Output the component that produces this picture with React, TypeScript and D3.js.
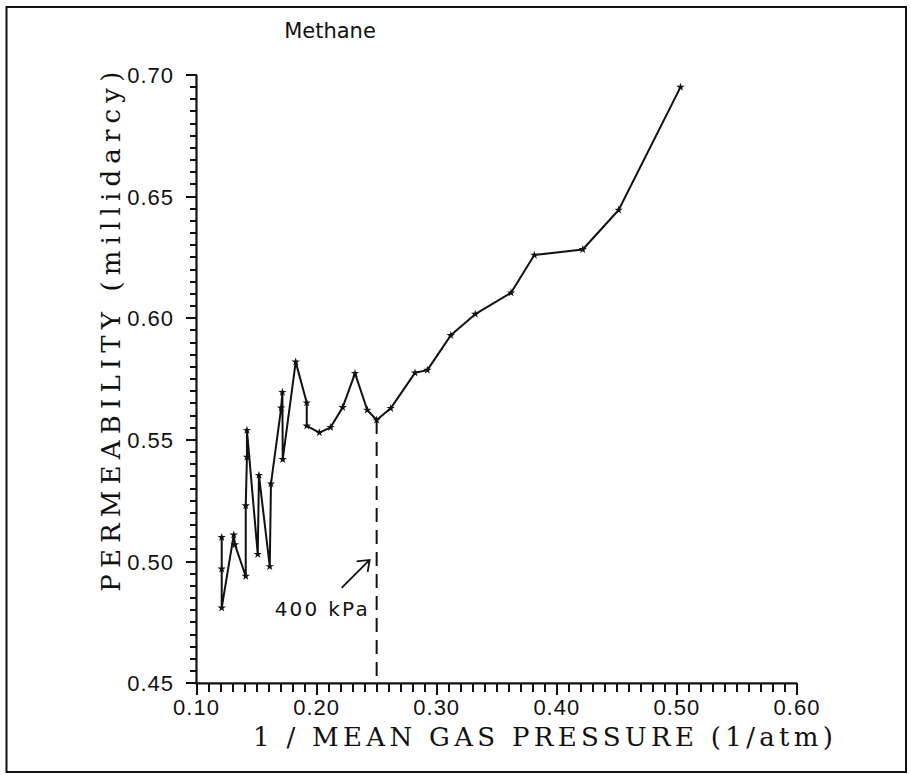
import * as d3 from 'd3';
import { useEffect, useRef } from 'react';

// 1 / mean gas pressure (1/atm), in measurement order
const invPressure = [
    0.121, 0.121, 0.121, 0.131, 0.132, 0.141, 0.141, 0.142, 0.142, 0.151, 0.152, 0.161, 0.162, 0.1705, 0.1715,
    0.1718, 0.1826, 0.1918, 0.1918, 0.2023, 0.2117, 0.2217, 0.232, 0.2422, 0.25, 0.2617, 0.2819, 0.2922, 0.3117,
    0.3321, 0.3619, 0.3813, 0.4216, 0.4515, 0.503,
];
// permeability (millidarcy)
const permeability = [
    0.51, 0.497, 0.481, 0.511, 0.507, 0.494, 0.523, 0.543, 0.554, 0.503, 0.5355, 0.498, 0.532, 0.5632, 0.5696,
    0.542, 0.5821, 0.5653, 0.5558, 0.553, 0.5552, 0.5634, 0.5774, 0.5623, 0.5582, 0.563, 0.5776, 0.5787, 0.593,
    0.6017, 0.6105, 0.626, 0.6283, 0.6445, 0.695,
];
const xTicks = [0.1, 0.2, 0.3, 0.4, 0.5, 0.6];
const yTicks = [0.45, 0.5, 0.55, 0.6, 0.65, 0.7];
const markerX = 0.25; // 400 kPa
const markerY = 0.5582;

const x = d3.scaleLinear().domain([0.1, 0.6]).range([196.5, 797]);
const y = d3.scaleLinear().domain([0.45, 0.7]).range([683.3, 75]);
const xMinor = d3.range(0, 51).map((i) => 0.1 + i * 0.01);
const yMinor = d3.range(0, 51).map((i) => 0.45 + i * 0.005);

export default function App() {
    const ref = useRef<SVGGElement | null>(null);
    const ink = '#111';
    const x0 = x(0.1);
    const y0 = y(0.45);

    useEffect(() => {
        if (!ref.current) return;
        const g = d3.select(ref.current);
        g.selectAll('*').remove();

        const sans = "'Liberation Sans', Arial, sans-serif";
        const serif = "'DejaVu Serif', serif";

        g.append('g')
            .selectAll('text')
            .data(xTicks)
            .join('text')
            .attr('x', (d) => x(d))
            .attr('y', 715)
            .attr('text-anchor', 'middle')
            .attr('font-family', sans)
            .attr('font-size', 22)
            .attr('letter-spacing', 1)
            .attr('fill', ink)
            .text((d) => d.toFixed(2));

        g.append('g')
            .selectAll('text')
            .data(yTicks)
            .join('text')
            .attr('x', 174)
            .attr('y', (d) => y(d) + 8)
            .attr('text-anchor', 'end')
            .attr('font-family', sans)
            .attr('font-size', 22)
            .attr('letter-spacing', 1)
            .attr('fill', ink)
            .text((d) => d.toFixed(2));

        // axis titles
        g.append('text')
            .attr('x', 253)
            .attr('y', 746)
            .attr('font-family', serif)
            .attr('font-size', 26)
            .attr('textLength', 580)
            .attr('lengthAdjust', 'spacing')
            .attr('fill', ink)
            .text('1 / MEAN GAS PRESSURE (1/atm)');

        g.append('text')
            .attr('transform', `translate(120,${y(0.5945)}) rotate(-90)`)
            .attr('text-anchor', 'middle')
            .attr('font-family', serif)
            .attr('font-size', 26)
            .attr('textLength', 520)
            .attr('lengthAdjust', 'spacing')
            .attr('fill', ink)
            .text('PERMEABILITY (millidarcy)');

        g.append('text')
            .attr('x', 330)
            .attr('y', 38)
            .attr('text-anchor', 'middle')
            .attr('font-family', "'DejaVu Sans', sans-serif")
            .attr('font-size', 21)
            .attr('fill', ink)
            .text('Methane');

        // dashed 400 kPa marker
        g.append('line')
            .attr('x1', x(markerX))
            .attr('x2', x(markerX))
            .attr('y1', y(markerY))
            .attr('y2', y0)
            .attr('stroke', ink)
            .attr('stroke-width', 2)
            .attr('stroke-dasharray', '14 8');

        const tipX = x(markerX) - 7;
        const tipY = y(0.5007);
        g.append('path')
            .attr(
                'd',
                `M${tipX - 28},${tipY + 28}L${tipX},${tipY}M${tipX - 13},${tipY + 1.5}L${tipX},${tipY}L${tipX - 2},${tipY + 12}`
            )
            .attr('fill', 'none')
            .attr('stroke', ink)
            .attr('stroke-width', 1.8);

        g.append('text')
            .attr('x', x(markerX) - 102)
            .attr('y', y(0.4776))
            .attr('font-family', "'DejaVu Sans', sans-serif")
            .attr('font-size', 20)
            .attr('fill', ink)
            .attr('textLength', 93)
            .attr('lengthAdjust', 'spacing')
            .text('400 kPa');

        // data line + star markers
        const pts = invPressure.map((v, i) => [v, permeability[i]] as [number, number]);
        const line = d3
            .line<[number, number]>()
            .x((d) => x(d[0]))
            .y((d) => y(d[1]));
        g.append('path')
            .datum(pts)
            .attr('d', line)
            .attr('fill', 'none')
            .attr('stroke', ink)
            .attr('stroke-width', 2)
            .attr('stroke-linejoin', 'round');

        g.append('g')
            .selectAll('path')
            .data(pts)
            .join('path')
            .attr('transform', (d) => `translate(${x(d[0])},${y(d[1])})`)
            .attr('d', d3.symbol(d3.symbolStar, 22)())
            .attr('fill', ink);
    }, []);

    return (
        <svg
            width={911}
            height={775}
            viewBox="0 0 911 775"
            style={{ position: 'absolute', left: 0, top: 0, background: '#fff' }}
        >
            {/* outer frame */}
            <rect x={6.5} y={7} width={899.5} height={765} fill="none" stroke={ink} strokeWidth={2} />
            {/* axis lines */}
            <path d={`M${x0},${y(0.7)}V${y0}H${x(0.6)}`} fill="none" stroke={ink} strokeWidth={2.2} />
            {/* ticks, outside, 10 minor per major */}
            <g stroke={ink} strokeWidth={2} shapeRendering="crispEdges">
                {xMinor.map((v, i) => (
                    <line key={'x' + i} x1={x(v)} x2={x(v)} y1={y0} y2={y0 + (i % 10 === 0 ? 12 : 9)} />
                ))}
                {yMinor.map((v, i) => (
                    <line key={'y' + i} x1={x0} x2={x0 - (i % 10 === 0 ? 11 : 7)} y1={y(v)} y2={y(v)} />
                ))}
            </g>
            <g ref={ref} />
        </svg>
    );
}
